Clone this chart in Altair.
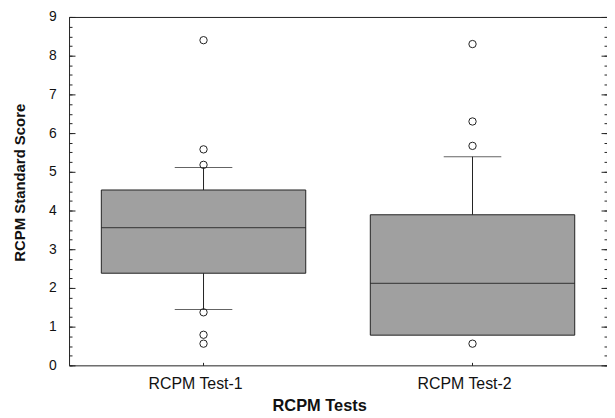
import altair as alt
import pandas as pd

categories = ["RCPM Test-1", "RCPM Test-2"]
lower_whisker = [1.44, 0.78]
q1 = [2.38, 0.78]
median = [3.56, 2.12]
q3 = [4.53, 3.89]
upper_whisker = [5.11, 5.39]
outliers_test1 = [8.40, 5.58, 5.18, 1.37, 0.79, 0.56]
outliers_test2 = [8.30, 6.30, 5.67, 0.56]

major_ticks = [0, 1, 2, 3, 4, 5, 6, 7, 8, 9]
minor_ticks = [i * 0.25 for i in range(37)]

stats = pd.DataFrame({
    "test": categories,
    "lo": lower_whisker,
    "q1": q1,
    "med": median,
    "q3": q3,
    "hi": upper_whisker,
})
outl = pd.DataFrame({
    "test": [categories[0]] * len(outliers_test1) + [categories[1]] * len(outliers_test2),
    "value": outliers_test1 + outliers_test2,
})

FONT = "Liberation Sans"
LINE = "#222222"
FRAME = "#222222"

xscale = alt.Scale(domain=categories, paddingInner=0, paddingOuter=0)
yscale = alt.Scale(domain=[0, 9], nice=False, zero=False)


def xenc(axis):
    return alt.X("test:N", scale=xscale, sort=categories, axis=axis)


x_label_axis = alt.Axis(orient="bottom", title="RCPM Tests", ticks=False, domain=True,
                        domainColor=FRAME, domainWidth=1, labelOffset=-8,
                        labelFont=FONT, labelFontSize=16, labelColor="#111", labelPadding=10,
                        labelAngle=0, titleFont=FONT, titleFontSize=16.5, titleFontWeight="bold",
                        titleColor="#111", titlePadding=6, titleX=252)
x_tick_axis = alt.Axis(orient="bottom", title=None, labels=False, domain=False, ticks=True,
                       tickSize=3, tickColor=LINE, offset=-3)
x_top_axis = alt.Axis(orient="top", title=None, labels=False, ticks=False, domain=True,
                      domainColor=FRAME, domainWidth=1)

y_label_axis = alt.Axis(orient="left", title="RCPM Standard Score", values=major_ticks,
                        ticks=False, domain=True, domainColor=FRAME, domainWidth=1,
                        grid=False, labelFont=FONT, labelFontSize=14,
                        labelColor="#111", labelPadding=13, titleFont=FONT, titleFontSize=15,
                        titleFontWeight="bold", titleColor="#111", titlePadding=21, titleY=166.5)
y_right_frame = alt.Axis(orient="right", title=None, labels=False, ticks=False, grid=False,
                         domain=True, domainColor=FRAME, domainWidth=1)


def tick_axis(orient, size, vals):
    return alt.Axis(orient=orient, title=None, labels=False, domain=False, grid=False,
                    ticks=True, tickSize=size, tickColor=LINE, offset=-size, values=vals)


box = alt.Chart(stats).mark_bar(
    width=alt.RelativeBandSize(0.76), color="#a0a0a0", stroke=LINE, strokeWidth=1
).encode(
    x=xenc(x_label_axis),
    y=alt.Y("q1:Q", scale=yscale, axis=y_label_axis),
    y2="q3:Q",
)

med = alt.Chart(stats).mark_tick(
    size=206, thickness=1.2, color=LINE
).encode(
    x=xenc(x_tick_axis),
    y=alt.Y("med:Q", scale=yscale, axis=tick_axis("left", 6, major_ticks)),
)

whisk_up = alt.Chart(stats).mark_rule(color=LINE, strokeWidth=1).encode(
    x=xenc(None),
    y=alt.Y("q3:Q", scale=yscale, axis=tick_axis("left", 3, minor_ticks)),
    y2="hi:Q",
)

whisk_lo = alt.Chart(stats).mark_rule(color=LINE, strokeWidth=1).encode(
    x=xenc(None),
    y=alt.Y("lo:Q", scale=yscale, axis=tick_axis("right", 6, major_ticks)),
    y2="q1:Q",
)

cap_hi = alt.Chart(stats).mark_tick(size=58, thickness=1, color=LINE).encode(
    x=xenc(None),
    y=alt.Y("hi:Q", scale=yscale, axis=tick_axis("right", 3, minor_ticks)),
)

cap_lo = alt.Chart(stats).transform_filter("datum.lo < datum.q1").mark_tick(
    size=58, thickness=1, color=LINE
).encode(
    x=xenc(None),
    y=alt.Y("lo:Q", scale=yscale, axis=y_right_frame),
)

pts = alt.Chart(outl).mark_point(
    shape="circle", size=55, filled=False, color=LINE, strokeWidth=1, opacity=1
).encode(
    x=xenc(x_top_axis),
    y=alt.Y("value:Q", scale=yscale, axis=None),
)

chart = alt.layer(box, med, whisk_up, whisk_lo, cap_hi, cap_lo, pts).resolve_axis(
    y="independent", x="independent"
).properties(
    width=542,
    height=351,
    background="white",
    autosize=alt.AutoSizeParams(type="none"),
    padding={"left": 61.5, "top": 7.5, "right": 0, "bottom": 50},
).configure_view(
    stroke=None
)

chart.save("out.html", embed_options={"renderer": "svg", "actions": False})
